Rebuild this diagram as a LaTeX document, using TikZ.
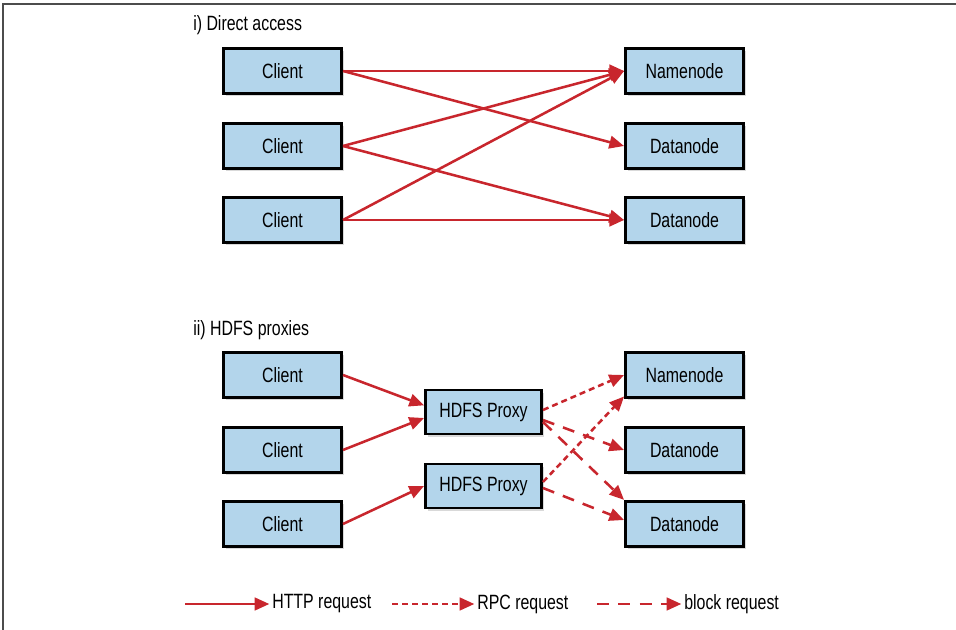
\documentclass[tikz,border=0pt]{standalone}
\usepackage{fontspec}
\setmainfont{Liberation Sans}[FakeStretch=0.77]
\usetikzlibrary{arrows.meta,shadows}
\definecolor{boxblue}{HTML}{B3D5EB}
\definecolor{reqred}{HTML}{C8262D}
\tikzset {>={Triangle[length=11pt,width=9.5pt]}}
\tikzset{
  hdfsbox/.style={draw,line width=2.2pt,fill=boxblue,minimum width=88.5pt,
    minimum height=34pt,inner sep=0pt,font=\fontsize{15.5}{17}\selectfont,
    drop shadow={shadow xshift=2pt,shadow yshift=-2pt,opacity=0.3}},
  heading/.style={anchor=west,inner sep=0pt,font=\fontsize{15.5}{17}\selectfont},
  http/.style={->,reqred,line width=1.9pt},
  rpc/.style={http,dash pattern=on 4.5pt off 3pt},
  blockreq/.style={http,dash pattern=on 9pt off 7pt}
}

\begin{document}
\begin{tikzpicture}[x=0.75pt,y=-0.75pt]
\useasboundingbox (0,0) rectangle (956,630);
\draw[black!70,line width=1.5pt] (3,630) -- (3,4) -- (956,4);

% i) direct access
\node[heading] (ti) at (193,25) {i) Direct access};
\foreach \n/\y in {1/71,2/146,3/220}
  \node[hdfsbox] (c\n) at (282.5,\y) {Client};
\node[hdfsbox] (nn) at (684.5,71) {Namenode};
\node[hdfsbox] (dn1) at (684.5,146) {Datanode};
\node[hdfsbox] (dn2) at (684.5,220) {Datanode};
\draw[http] (c1.east) -- (nn.west);
\draw[http] (c1.east) -- (dn1.west);
\draw[http] (c2.east) -- (nn.west);
\draw[http] (c2.east) -- (dn2.west);
\draw[http] (c3.east) -- (nn.west);
\draw[http] (c3.east) -- (dn2.west);

% ii) HDFS proxies
\node[heading] (tii) at (193,330) {ii) HDFS proxies};
\foreach \n/\y in {1/375,2/450,3/524}
  \node[hdfsbox] (pc\n) at (282.5,\y) {Client};
\node[hdfsbox] (pnn) at (684.5,375) {Namenode};
\node[hdfsbox] (pdn1) at (684.5,450) {Datanode};
\node[hdfsbox] (pdn2) at (684.5,524) {Datanode};
\node[hdfsbox,minimum width=87pt,minimum height=33pt] (px1) at (483.5,412) {HDFS Proxy};
\node[hdfsbox,minimum width=87pt,minimum height=33pt] (px2) at (483.5,486) {HDFS Proxy};
\draw[http] (pc1.east) -- ([yshift=5pt]px1.west);
\draw[http] (pc2.east) -- ([yshift=-4.5pt]px1.west);
\draw[http] (pc3.east) -- (px2.west);
\draw[rpc] ([yshift=1.5pt]px1.east) -- (pnn.west);
\draw[rpc] ([yshift=3pt]px2.east) -- ([yshift=2pt]pnn.south west);
\draw[blockreq] ([yshift=-6pt]px1.east) -- (pdn1.west);
\draw[blockreq] ([yshift=-7.5pt]px1.east) -- (pdn2.north west);
\draw[blockreq] ([yshift=-1.5pt]px2.east) -- ([yshift=3pt]pdn2.west);

% legend
\coordinate (lh) at (185,604);
\coordinate (lr) at (392,604);
\coordinate (lb) at (597,604);
\node[heading] (th) at (272,604) {HTTP request};
\node[heading] (tr) at (477,604) {RPC request};
\node[heading] (tb) at (684,604) {block request};
\draw[http,shorten >=2pt] (lh) -- (th.west);
\draw[rpc,shorten >=2pt] (lr) -- (tr.west);
\draw[blockreq,shorten >=2pt] (lb) -- (tb.west);
\end{tikzpicture}
\end{document}
